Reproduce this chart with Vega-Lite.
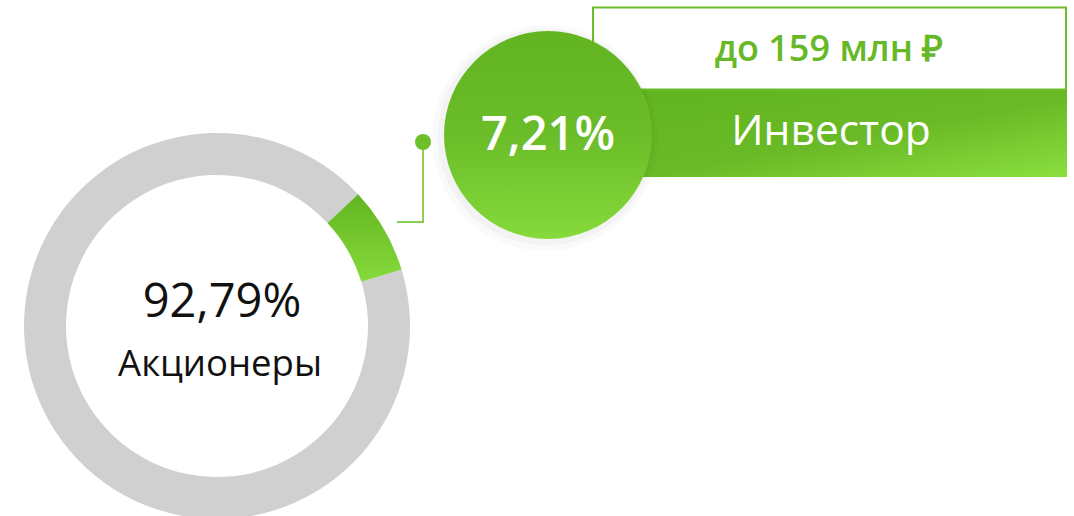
{
  "$schema": "https://vega.github.io/schema/vega-lite/v6.json",
  "autosize": {"type": "none"},
  "padding": 0,
  "width": 1074,
  "height": 516,
  "background": "#ffffff",
  "config": {"view": {"stroke": null}, "font": "Open Sans"},
  "data": {"values": [
    {"segment": "Инвестор", "share": 7.21, "label": "7,21%", "amount": "до 159 млн ₽"},
    {"segment": "Акционеры", "share": 92.79, "label": "92,79%", "amount": ""}
  ]},
  "transform": [
    {"stack": "share", "groupby": [], "sort": [{"field": "segment", "order": "descending"}], "as": ["t0", "t1"]}
  ],
  "layer": [
    {
      "transform": [{"filter": "datum.segment === 'Акционеры'"}],
      "mark": {"type": "arc", "outerRadius": 193, "innerRadius": 151, "fill": "#d1d0d1"},
      "encoding": {
        "theta": {"field": "t0", "type": "quantitative", "scale": {"domain": [0, 100], "range": [0.8203, 7.1035]}},
        "theta2": {"field": "t1"},
        "x": {"datum": 217, "type": "quantitative", "scale": {"domain": [0, 1074], "nice": false, "zero": false}, "axis": null},
        "y": {"datum": 326, "type": "quantitative", "scale": {"domain": [0, 516], "nice": false, "zero": false, "reverse": true}, "axis": null}
      }
    },
    {
      "transform": [{"filter": "datum.segment === 'Инвестор'"}],
      "mark": {"type": "arc", "outerRadius": 193, "innerRadius": 151,
        "fill": {"gradient": "linear", "x1": 0, "y1": 0, "x2": 0, "y2": 1, "stops": [{"offset": 0, "color": "#63b521"}, {"offset": 1, "color": "#87da3b"}]}},
      "encoding": {
        "theta": {"field": "t0", "type": "quantitative", "scale": {"domain": [0, 100], "range": [0.8203, 7.1035]}},
        "theta2": {"field": "t1"},
        "x": {"datum": 217, "type": "quantitative", "scale": {"domain": [0, 1074], "nice": false, "zero": false}, "axis": null},
        "y": {"datum": 326, "type": "quantitative", "scale": {"domain": [0, 516], "nice": false, "zero": false, "reverse": true}, "axis": null}
      }
    },
    {
      "transform": [{"filter": "datum.segment === 'Акционеры'"}],
      "mark": {"type": "text", "fontSize": 47, "font": "Open Sans", "color": "#111111", "align": "center", "baseline": "alphabetic"},
      "encoding": {
        "text": {"field": "label"},
        "x": {"datum": 222, "type": "quantitative", "scale": {"domain": [0, 1074], "nice": false, "zero": false}, "axis": null},
        "y": {"datum": 317, "type": "quantitative", "scale": {"domain": [0, 516], "nice": false, "zero": false, "reverse": true}, "axis": null}
      }
    },
    {
      "transform": [{"filter": "datum.segment === 'Акционеры'"}],
      "mark": {"type": "text", "fontSize": 36.5, "font": "Open Sans", "color": "#111111", "align": "center", "baseline": "alphabetic"},
      "encoding": {
        "text": {"field": "segment"},
        "x": {"datum": 220, "type": "quantitative", "scale": {"domain": [0, 1074], "nice": false, "zero": false}, "axis": null},
        "y": {"datum": 376, "type": "quantitative", "scale": {"domain": [0, 516], "nice": false, "zero": false, "reverse": true}, "axis": null}
      }
    },
    {
      "transform": [{"filter": "datum.segment === 'Инвестор'"}],
      "mark": {"type": "rule", "stroke": "#6fc22d", "strokeWidth": 1.6},
      "encoding": {
        "x": {"datum": 423, "type": "quantitative", "scale": {"domain": [0, 1074], "nice": false, "zero": false}, "axis": null},
        "y": {"datum": 142, "type": "quantitative", "scale": {"domain": [0, 516], "nice": false, "zero": false, "reverse": true}, "axis": null},
        "y2": {"datum": 222}
      }
    },
    {
      "transform": [{"filter": "datum.segment === 'Инвестор'"}],
      "mark": {"type": "rule", "stroke": "#6fc22d", "strokeWidth": 1.6},
      "encoding": {
        "x": {"datum": 397, "type": "quantitative", "scale": {"domain": [0, 1074], "nice": false, "zero": false}, "axis": null},
        "x2": {"datum": 423.8},
        "y": {"datum": 222, "type": "quantitative", "scale": {"domain": [0, 516], "nice": false, "zero": false, "reverse": true}, "axis": null}
      }
    },
    {
      "transform": [{"filter": "datum.segment === 'Инвестор'"}],
      "mark": {"type": "point", "shape": "circle", "filled": true, "size": 256, "fill": "#6dc02b", "opacity": 1},
      "encoding": {
        "x": {"datum": 423, "type": "quantitative", "scale": {"domain": [0, 1074], "nice": false, "zero": false}, "axis": null},
        "y": {"datum": 142, "type": "quantitative", "scale": {"domain": [0, 516], "nice": false, "zero": false, "reverse": true}, "axis": null}
      }
    },
    {
      "transform": [{"filter": "datum.segment === 'Инвестор'"}],
      "mark": {"type": "rect",
        "fill": {"gradient": "linear", "x1": 0, "y1": 0, "x2": 1, "y2": 1, "stops": [{"offset": 0, "color": "#61b41f"}, {"offset": 0.55, "color": "#69ba26"}, {"offset": 1, "color": "#8bdf3e"}]}},
      "encoding": {
        "x": {"datum": 592, "type": "quantitative", "scale": {"domain": [0, 1074], "nice": false, "zero": false}, "axis": null},
        "x2": {"datum": 1067},
        "y": {"datum": 90, "type": "quantitative", "scale": {"domain": [0, 516], "nice": false, "zero": false, "reverse": true}, "axis": null},
        "y2": {"datum": 177}
      }
    },
    {
      "transform": [{"filter": "datum.segment === 'Инвестор'"}],
      "mark": {"type": "rect", "fill": "#ffffff", "stroke": "#6bbd2b", "strokeWidth": 2},
      "encoding": {
        "x": {"datum": 593, "type": "quantitative", "scale": {"domain": [0, 1074], "nice": false, "zero": false}, "axis": null},
        "x2": {"datum": 1066},
        "y": {"datum": 7.5, "type": "quantitative", "scale": {"domain": [0, 516], "nice": false, "zero": false, "reverse": true}, "axis": null},
        "y2": {"datum": 89.5}
      }
    },
    {
      "transform": [{"filter": "datum.segment === 'Инвестор'"}],
      "mark": {"type": "point", "shape": "circle", "filled": true, "size": 51000, "fill": "#000000", "opacity": 0.018},
      "encoding": {
        "x": {"datum": 545, "type": "quantitative", "scale": {"domain": [0, 1074], "nice": false, "zero": false}, "axis": null},
        "y": {"datum": 138, "type": "quantitative", "scale": {"domain": [0, 516], "nice": false, "zero": false, "reverse": true}, "axis": null}
      }
    },
    {
      "transform": [{"filter": "datum.segment === 'Инвестор'"}],
      "mark": {"type": "point", "shape": "circle", "filled": true, "size": 47000, "fill": "#000000", "opacity": 0.028},
      "encoding": {
        "x": {"datum": 546, "type": "quantitative", "scale": {"domain": [0, 1074], "nice": false, "zero": false}, "axis": null},
        "y": {"datum": 137, "type": "quantitative", "scale": {"domain": [0, 516], "nice": false, "zero": false, "reverse": true}, "axis": null}
      }
    },
    {
      "transform": [{"filter": "datum.segment === 'Инвестор'"}],
      "mark": {"type": "point", "shape": "circle", "filled": true, "size": 43264, "strokeWidth": 0,
        "fill": {"gradient": "linear", "x1": 0, "y1": 0, "x2": 0, "y2": 1, "stops": [{"offset": 0, "color": "#62b420"}, {"offset": 0.5, "color": "#6abd28"}, {"offset": 1, "color": "#87da3b"}]}, "opacity": 1},
      "encoding": {
        "x": {"datum": 548, "type": "quantitative", "scale": {"domain": [0, 1074], "nice": false, "zero": false}, "axis": null},
        "y": {"datum": 135, "type": "quantitative", "scale": {"domain": [0, 516], "nice": false, "zero": false, "reverse": true}, "axis": null}
      }
    },
    {
      "transform": [{"filter": "datum.segment === 'Инвестор'"}],
      "mark": {"type": "text", "fontSize": 47, "fontWeight": 600, "font": "Open Sans", "color": "#ffffff", "align": "center", "baseline": "alphabetic"},
      "encoding": {
        "text": {"field": "label"},
        "x": {"datum": 548, "type": "quantitative", "scale": {"domain": [0, 1074], "nice": false, "zero": false}, "axis": null},
        "y": {"datum": 150, "type": "quantitative", "scale": {"domain": [0, 516], "nice": false, "zero": false, "reverse": true}, "axis": null}
      }
    },
    {
      "transform": [{"filter": "datum.segment === 'Инвестор'"}],
      "mark": {"type": "text", "fontSize": 42.5, "font": "Open Sans", "color": "#ffffff", "align": "center", "baseline": "alphabetic"},
      "encoding": {
        "text": {"field": "segment"},
        "x": {"datum": 831, "type": "quantitative", "scale": {"domain": [0, 1074], "nice": false, "zero": false}, "axis": null},
        "y": {"datum": 145, "type": "quantitative", "scale": {"domain": [0, 516], "nice": false, "zero": false, "reverse": true}, "axis": null}
      }
    },
    {
      "transform": [{"filter": "datum.segment === 'Инвестор'"}],
      "mark": {"type": "text", "fontSize": 36, "fontWeight": 600, "font": "Open Sans", "color": "#67b826", "align": "center", "baseline": "alphabetic"},
      "encoding": {
        "text": {"field": "amount"},
        "x": {"datum": 829, "type": "quantitative", "scale": {"domain": [0, 1074], "nice": false, "zero": false}, "axis": null},
        "y": {"datum": 61, "type": "quantitative", "scale": {"domain": [0, 516], "nice": false, "zero": false, "reverse": true}, "axis": null}
      }
    }
  ]
}
